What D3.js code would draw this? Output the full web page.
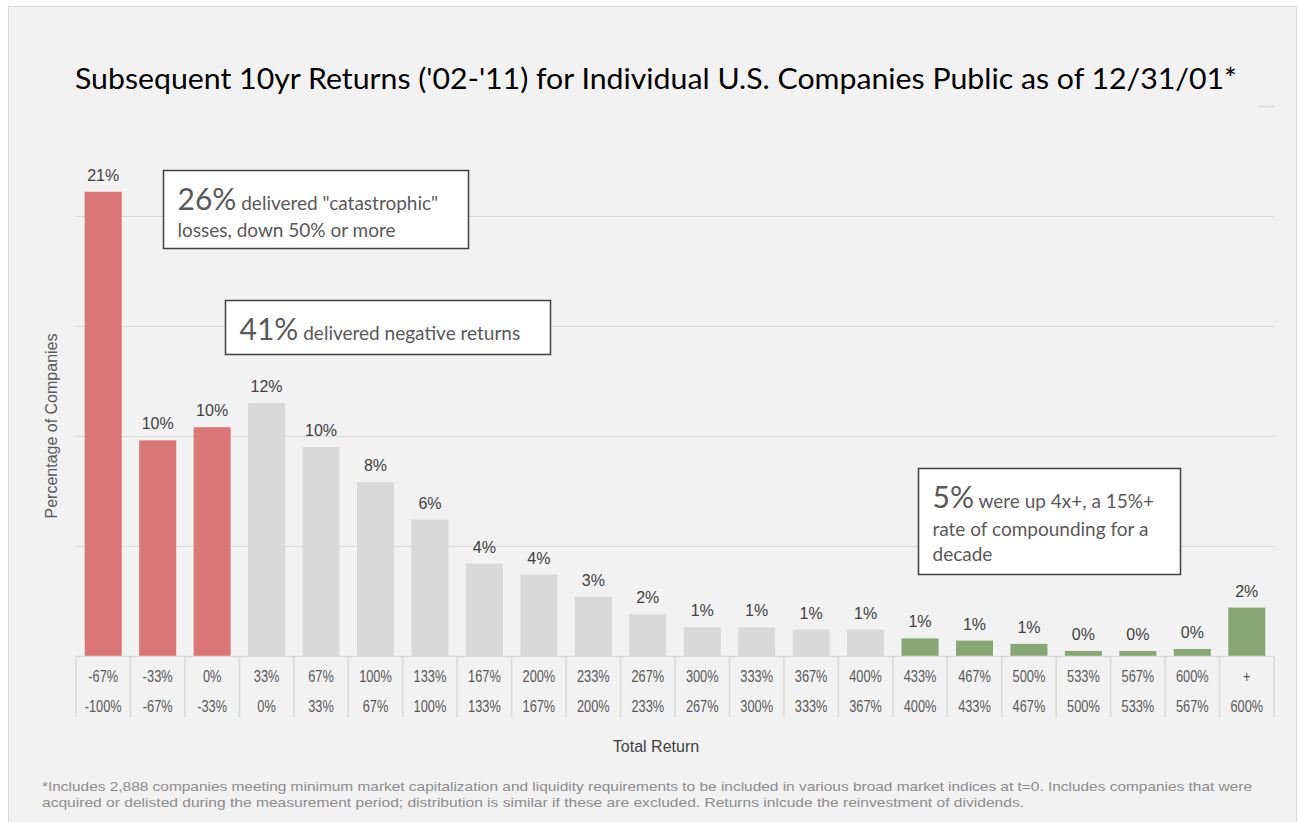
<!DOCTYPE html>
<html>
<head>
<meta charset="utf-8">
<script src="https://cdn.jsdelivr.net/npm/d3@7"></script>
<style>
  body { margin: 0; background: #fff; }
  svg { display: block; }
</style>
</head>
<body>
<div id="chart"></div>
<script>
// categories (upper bound on top line, lower bound below)
var upperLabels = ["-67%", "-33%", "0%", "33%", "67%", "100%", "133%", "167%", "200%", "233%", "267%",
  "300%", "333%", "367%", "400%", "433%", "467%", "500%", "533%", "567%", "600%", "+"];
var lowerLabels = ["-100%", "-67%", "-33%", "0%", "33%", "67%", "100%", "133%", "167%", "200%", "233%",
  "267%", "300%", "333%", "367%", "400%", "433%", "467%", "500%", "533%", "567%", "600%"];
// percent of companies per bucket
var values = [21.1, 9.8, 10.4, 11.5, 9.5, 7.9, 6.2, 4.2, 3.7, 2.7, 1.9,
  1.3, 1.3, 1.2, 1.2, 0.8, 0.7, 0.55, 0.23, 0.23, 0.32, 2.2];
// bucket group: loss, middle, big winner
var groups = ["neg", "neg", "neg", "mid", "mid", "mid", "mid", "mid", "mid", "mid", "mid",
  "mid", "mid", "mid", "mid", "up", "up", "up", "up", "up", "up", "up"];
var gridTicks = [5, 10, 15, 20];

var W = 1299, H = 822;
var margin = {top: 172, left: 76, right: 25, bottom: 166};
var width = W - margin.left - margin.right,
    height = H - margin.top - margin.bottom;

var color = d3.scaleOrdinal().domain(["neg", "mid", "up"]).range(["#da7675", "#d9d9d9", "#89a774"]);

var svg = d3.select("#chart").append("svg")
  .attr("width", W)
  .attr("height", H);

// panel background
svg.append("rect")
  .attr("x", 8.5).attr("y", 6.5)
  .attr("width", W - 11).attr("height", H)
  .attr("fill", "#f2f2f2")
  .attr("stroke", "#d9d9d9");

// title
svg.append("text")
  .attr("x", 75).attr("y", 89)
  .attr("textLength", 1162).attr("lengthAdjust", "spacingAndGlyphs")
  .style("font-family", "Lato, 'Open Sans', sans-serif")
  .style("font-size", "28px")
  .attr("fill", "#000")
  .text("Subsequent 10yr Returns ('02-'11) for Individual U.S. Companies Public as of 12/31/01*");

svg.append("line")
  .attr("x1", 1258).attr("x2", 1275).attr("y1", 106.5).attr("y2", 106.5)
  .attr("stroke", "#d9d9d9").attr("stroke-width", 1.5);

var g = svg.append("g")
  .attr("transform", "translate(" + margin.left + "," + margin.top + ")");

var x = d3.scaleBand()
  .domain(d3.range(values.length))
  .range([0, width])
  .paddingInner(0.32)
  .paddingOuter(0.16);

var y = d3.scaleLinear()
  .domain([0, 22])
  .range([height, 0]);

// gridlines
g.append("g")
  .attr("class", "grid")
  .call(d3.axisLeft(y).tickValues(gridTicks).tickSize(-width).tickFormat(""))
  .call(function(s) {
    s.select(".domain").remove();
    s.selectAll("line").attr("stroke", "#d9d9d9").attr("stroke-width", 1.2);
  });

// bars
g.selectAll(".bar")
  .data(values)
  .enter().append("rect")
  .attr("class", "bar")
  .attr("x", function(d, i) { return x(i); })
  .attr("width", x.bandwidth())
  .attr("y", function(d) { return y(d); })
  .attr("height", function(d) { return height - y(d); })
  .attr("fill", function(d, i) { return color(groups[i]); });

// value labels
g.selectAll(".vlabel")
  .data(values)
  .enter().append("text")
  .attr("class", "vlabel")
  .attr("x", function(d, i) { return x(i) + x.bandwidth() / 2; })
  .attr("y", function(d) { return y(d) - 11; })
  .attr("text-anchor", "middle")
  .style("font-family", "'Liberation Sans', Arial, sans-serif")
  .style("font-size", "16px")
  .attr("fill", "#404040")
  .text(function(d) { return Math.round(d) + "%"; });

// x axis with two-line category labels
var step = x.step();
var xAxis = g.append("g")
  .attr("transform", "translate(0," + height + ")")
  .call(d3.axisBottom(x).tickSize(0).tickFormat(""));
xAxis.select(".domain").attr("stroke", "#d9d9d9").attr("stroke-width", 1.5);

// no narrow font installed, so squeeze the labels horizontally
xAxis.selectAll(".tick").each(function(i) {
  var t = d3.select(this).append("g").attr("transform", "scale(0.8,1)");
  t.append("text")
    .attr("y", 26)
    .attr("text-anchor", "middle")
    .style("font-family", "'Liberation Sans', Arial, sans-serif")
    .style("font-size", "16px")
    .attr("fill", "#595959")
    .text(upperLabels[i]);
  t.append("text")
    .attr("y", 56)
    .attr("text-anchor", "middle")
    .style("font-family", "'Liberation Sans', Arial, sans-serif")
    .style("font-size", "16px")
    .attr("fill", "#595959")
    .text(lowerLabels[i]);
});

// separators between categories
g.append("g").selectAll("line")
  .data(d3.range(values.length + 1))
  .enter().append("line")
  .attr("x1", function(i) { return i * step; })
  .attr("x2", function(i) { return i * step; })
  .attr("y1", height)
  .attr("y2", height + 61)
  .attr("stroke", "#d9d9d9")
  .attr("stroke-width", 1.5);

// axis titles
svg.append("text")
  .attr("x", 656).attr("y", 752)
  .attr("text-anchor", "middle")
  .style("font-family", "'Liberation Sans', Arial, sans-serif")
  .style("font-size", "16px")
  .attr("fill", "#404040")
  .text("Total Return");

svg.append("text")
  .attr("transform", "translate(57,426) rotate(-90)")
  .attr("text-anchor", "middle")
  .style("font-family", "'Liberation Sans', Arial, sans-serif")
  .style("font-size", "16px")
  .attr("fill", "#595959")
  .text("Percentage of Companies");

// annotation boxes
function note(bx, by, bw, bh, big, lines) {
  var a = svg.append("g");
  a.append("rect")
    .attr("x", bx).attr("y", by).attr("width", bw).attr("height", bh)
    .attr("fill", "#fff").attr("stroke", "#404040").attr("stroke-width", 1.5);
  var t = a.append("text")
    .attr("x", bx + 14).attr("y", by + lines[0].dy)
    .style("font-family", "Lato, 'Open Sans', sans-serif")
    .attr("fill", "#595959");
  t.append("tspan").style("font-size", "30px").text(big);
  t.append("tspan").style("font-size", "19px").text(" " + lines[0].text);
  lines.slice(1).forEach(function(l) {
    a.append("text")
      .attr("x", bx + 14).attr("y", by + l.dy)
      .style("font-family", "Lato, 'Open Sans', sans-serif")
      .style("font-size", "19px")
      .attr("fill", "#595959")
      .text(l.text);
  });
}
note(163.5, 170.5, 305, 78, "26%", [
  {dy: 39, text: "delivered \"catastrophic\""},
  {dy: 66, text: "losses, down 50% or more"}]);
note(225.5, 300.5, 325, 54, "41%", [
  {dy: 39, text: "delivered negative returns"}]);
note(918.5, 468.5, 262, 106, "5%", [
  {dy: 39, text: "were up 4x+, a 15%+"},
  {dy: 67, text: "rate of compounding for a"},
  {dy: 92, text: "decade"}]);

// footnote
var foot = svg.append("text")
  .style("font-family", "'Liberation Sans', Arial, sans-serif")
  .style("font-size", "13px")
  .attr("fill", "#8c8c8c");
foot.append("tspan").attr("x", 42).attr("y", 791)
  .attr("textLength", 1210).attr("lengthAdjust", "spacingAndGlyphs")
  .text("*Includes 2,888 companies meeting minimum market capitalization and liquidity requirements to be included in various broad market indices at t=0. Includes companies that were");
foot.append("tspan").attr("x", 42).attr("y", 807)
  .attr("textLength", 982).attr("lengthAdjust", "spacingAndGlyphs")
  .text("acquired or delisted during the measurement period; distribution is similar if these are excluded. Returns inlcude the reinvestment of dividends.");
</script>
</body>
</html>
